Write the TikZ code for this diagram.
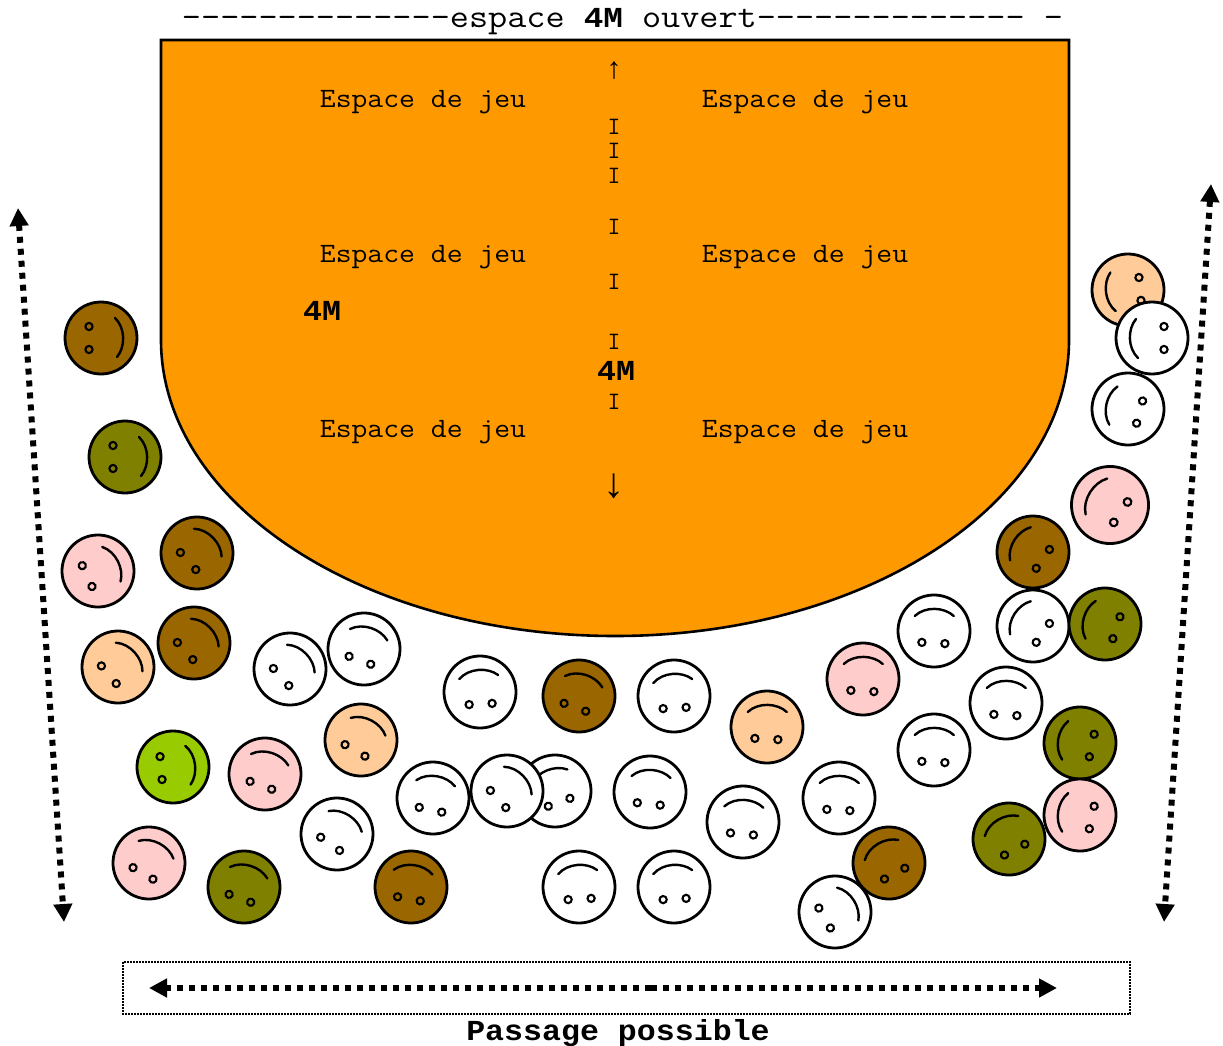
\documentclass[tikz,border=0pt]{standalone}
\usepackage{fontspec}
\usepackage{graphicx}
\usetikzlibrary{arrows.meta}
\definecolor{cOrange}{HTML}{FF9900}
\definecolor{cBrown}{HTML}{996600}
\definecolor{cOlive}{HTML}{808000}
\definecolor{cPink}{HTML}{FFCCCC}
\definecolor{cPeach}{HTML}{FFCC99}
\definecolor{cLime}{HTML}{99CC00}
\newfontfamily\arrowfont{Liberation Mono}
\newfontfamily\heavy[BoldFont={Liberation Mono},UprightFeatures={FakeBold=0}]{Liberation Mono}
\newcommand{\heavybold}{\heavy\bfseries}
\newcommand{\jeutext}{\scalebox{1.1}[1]{\ttfamily\fontsize{28}{28}\selectfont Espace de jeu}}
\newcommand{\itext}{\ttfamily\fontsize{25}{25}\selectfont I}
\newfontfamily\monobold{Liberation Mono}[BoldFont={* Bold}]
\newcommand{\bigbold}[1]{{\fontsize{29}{29}\selectfont\monobold\bfseries\scalebox{1.09}[1]{#1}}}
\tikzset{
  x=1pt,y=-1pt,
  facebody/.style={circle,draw=black,line width=2.8pt,minimum size=72pt,inner sep=0pt,transform shape},
  facepart/.style={draw=black,line width=2.4pt,line cap=round},
  faceeye/.style={draw=black,line width=2.1pt},
  dotline/.style={line width=6pt,dash pattern=on 6pt off 6pt},
  dotarrow/.style={dotline,{Triangle[length=18pt,width=18pt]}-{Triangle[length=18pt,width=18pt]}},
  dottip/.style={dotline,-{Triangle[length=18pt,width=18pt]}},
  label/.style={inner sep=0pt,anchor=center},
}
\begin{document}
\begin{tikzpicture}
\useasboundingbox (0,0) rectangle (1223,1046);
% play area
\draw[fill=cOrange,draw=black,line width=2.6pt] (161,40) -- (1069,40) -- (1069,340)
  arc[start angle=0,end angle=-180,x radius=454,y radius=-296] -- cycle;
% title
\node[label] (title) at (622.5,22) {\scalebox{1.126}[1]{\ttfamily\fontsize{33}{33}\selectfont --------------espace \makebox[34.65pt]{\monobold\bfseries\fontsize{29}{29}\selectfont 4M} ouvert-------------- -}};
% labels
\node[label] (j1) at (423,102) {\jeutext};
\node[label] (j2) at (805,102) {\jeutext};
\node[label] (j3) at (423,257) {\jeutext};
\node[label] (j4) at (805,257) {\jeutext};
\node[label] (j5) at (423,432) {\jeutext};
\node[label] (j6) at (805,432) {\jeutext};
\node[label] (m1) at (322,311) {\bigbold{4M}};
\node[label] (m2) at (616,371) {\bigbold{4M}};
\node[label] (up) at (614,71) {\fontsize{30}{30}\selectfont\arrowfont ↑};
\node[label] (dn) at (614,486) {\fontsize{42}{42}\selectfont\arrowfont ↓};
\foreach \n/\y in {a/127,b/151,c/176,d/227,e/282,f/342,g/402}
  \node[label] (i\n) at (614,\y) {\itext};
% faces: name/x/y/colour/clockwise rotation/scale
\foreach \n/\x/\y/\c/\r/\s in {
 1/101/338/cBrown/90/1, 2/125/457/cOlive/90/1, 3/98/571/cPink/65/1,
 4/197/553/cBrown/48/1, 5/194/643/cBrown/48/1, 6/118/667/cPeach/50/1,
 7/290/669/white/48/1, 8/364/649/white/20/1, 9/480/692/white/-3/1,
 10/579/696/cBrown/20/1, 11/674/696/white/-3/1, 12/767/727/cPeach/3/1,
 13/863/679/cPink/3/1, 14/934/631/white/3/1, 15/1033/626/white/-55/1,
 16/1105/624/cOlive/-72/1, 17/1033/552/cBrown/-55/1, 18/1110/505/cPink/-56/1.07,
 19/1128/290/cPeach/-95/1, 20/1152/338/white/-90/1, 21/1128/409/white/-75/1,
 22/1006/703/white/3/1, 23/934/750/white/3/1, 24/1080/743/cOlive/-78/1,
 26/1009/839/cOlive/-28/1, 25/1080/815/cPink/-78/1,
 28/835/912/white/60/1, 27/889/863/cBrown/-28/1,
 29/839/798/white/3/1, 30/743/822/white/5/1, 31/650/792/white/6/1,
 32/674/887/white/-3/1, 33/579/887/white/-3/1, 34/555/791/white/-20/1,
 35/507/791/white/48/1, 36/433/798/white/12/1, 37/361/740/cPeach/30/1,
 38/265/774/cPink/20/1, 39/337/834/white/35/1, 40/411/887/cBrown/10/1,
 41/244/887/cOlive/20/1, 42/149/863/cPink/30/1, 43/173/767/cLime/85/1}
{
  \begin{scope}[shift={(\x,\y)},rotate=-\r,scale=\s]
    \node[facebody,fill=\c] (face\n) at (0,0) {};
    \draw[facepart] (-20,-14) .. controls (-10,-24.5) and (9,-24.5) .. (19,-16);
    \draw[faceeye] (-11.5,12) circle[radius=3.6];
    \draw[faceeye] (11.5,12) circle[radius=3.6];
  \end{scope}
}
% arrows
\coordinate (la) at (18,208);
\coordinate (lb) at (64,922);
\coordinate (ra) at (1211,184);
\coordinate (rb) at (1164,922);
\coordinate (ba) at (149,988);
\coordinate (bm) at (651,988);
\coordinate (bb) at (1057,988);
\draw[dotarrow] (la) -- (lb);
\draw[dotarrow] (ra) -- (rb);
\draw[dottip] (bm) -- (ba);
\draw[dottip] (bm) -- (bb);
% passage box
\coordinate (pa) at (123,962);
\coordinate (pb) at (1130,1014);
\draw[line width=1.6pt,dash pattern=on 1.6pt off 1.4pt] (pa) rectangle (pb);
\node[label] (passage) at (618,1033) {\bigbold{Passage possible}};
\end{tikzpicture}
\end{document}
